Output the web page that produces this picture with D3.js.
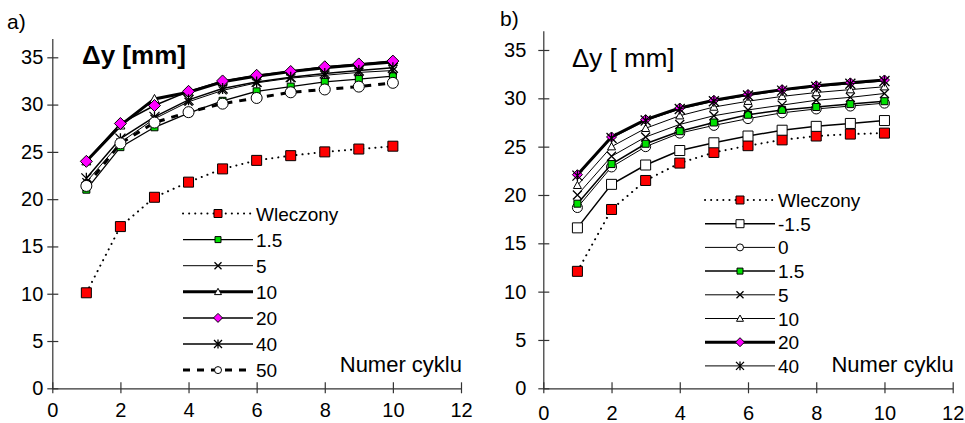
<!DOCTYPE html>
<html>
<head>
<meta charset="utf-8">
<script src="https://cdn.jsdelivr.net/npm/d3@7"></script>
<style>
  html, body { margin: 0; padding: 0; background: #fff; }
  svg { display: block; font-family: "Liberation Sans", Arial, sans-serif; }
</style>
</head>
<body>
<svg id="chart" width="965" height="423"></svg>
<script>
// Cycle numbers on the x axis
const cycles = [1, 2, 3, 4, 5, 6, 7, 8, 9, 10];
const xTicks = [0, 2, 4, 6, 8, 10, 12];
const yTicks = [0, 5, 10, 15, 20, 25, 30, 35];

// Panel a) — displacement Δy [mm] per cycle
const aLabels = ["Wleczony", "1.5", "5", "10", "20", "40", "50"];
const aWleczony = [10.1, 17.1, 20.2, 21.8, 23.2, 24.1, 24.6, 25.0, 25.3, 25.6];
const a1_5 = [21.0, 25.5, 27.6, 29.1, 30.4, 31.4, 31.9, 32.4, 32.7, 33.0];
const a5 = [21.8, 26.0, 28.5, 30.3, 31.5, 32.3, 32.8, 33.1, 33.4, 33.6];
const a10 = [24.0, 27.8, 30.6, 31.3, 32.4, 33.0, 33.5, 33.9, 34.2, 34.5];
const a20 = [24.0, 28.0, 29.9, 31.4, 32.5, 33.1, 33.5, 34.0, 34.3, 34.6];
const a40 = [22.2, 26.4, 28.7, 30.5, 31.7, 32.4, 32.9, 33.3, 33.6, 33.9];
const a50 = [21.4, 25.9, 28.1, 29.2, 30.1, 30.7, 31.3, 31.6, 31.9, 32.3];

// Panel b)
const bLabels = ["Wleczony", "-1.5", "0", "1.5", "5", "10", "20", "40"];
const bWleczony = [12.1, 18.5, 21.5, 23.3, 24.4, 25.1, 25.7, 26.1, 26.3, 26.4];
const bM1_5 = [16.6, 21.1, 23.1, 24.6, 25.4, 26.1, 26.7, 27.1, 27.4, 27.7];
const b0 = [18.7, 22.9, 25.0, 26.4, 27.2, 27.9, 28.5, 28.9, 29.2, 29.5];
const b1_5 = [19.1, 23.2, 25.3, 26.6, 27.5, 28.3, 28.8, 29.1, 29.4, 29.7];
const b5 = [20.0, 24.0, 26.0, 27.3, 28.2, 28.8, 29.3, 29.8, 30.1, 30.5];
const b10 = [21.0, 25.0, 26.9, 28.2, 29.1, 29.7, 30.2, 30.6, 30.9, 31.2];
const b20 = [22.1, 26.0, 27.8, 29.0, 29.8, 30.4, 30.9, 31.3, 31.6, 31.9];
const b40 = [22.0, 25.9, 27.7, 28.9, 29.7, 30.3, 30.8, 31.2, 31.5, 31.8];

const svg = d3.select("#chart");

// Marker shapes drawn as paths centred on (0,0); s = full width
function markerPath(type, s) {
  const h = s / 2;
  switch (type) {
    case "square": return `M${-h},${-h}H${h}V${h}H${-h}Z`;
    case "diamond": return `M0,${-h}L${h},0L0,${h}L${-h},0Z`;
    case "triangle": return `M0,${-h}L${h},${h * 0.8}L${-h},${h * 0.8}Z`;
    case "x": return `M${-h},${-h}L${h},${h}M${h},${-h}L${-h},${h}`;
    case "asterisk": return `M${-h},${-h}L${h},${h}M${h},${-h}L${-h},${h}M0,${-h * 1.1}V${h * 1.1}`;
    case "circle": return d3.arc()({innerRadius: 0, outerRadius: h, startAngle: 0, endAngle: 2 * Math.PI});
  }
}

function drawMarker(g, type, s, fill) {
  g.append("path")
    .attr("d", markerPath(type, s))
    .attr("fill", (type === "x" || type === "asterisk") ? "none" : fill)
    .attr("stroke", "#000")
    .attr("stroke-width", (type === "x" || type === "asterisk") ? 1.3 : 1);
}

function drawPanel(cfg) {
  const x = d3.scaleLinear().domain([0, 12]).range([cfg.x0, cfg.x1]);
  const y = d3.scaleLinear().domain([0, 37]).range([cfg.y0, cfg.y0 - 37 * cfg.pxPerUnit]);
  const g = svg.append("g");

  // Axes with ticks crossing the axis line
  const yAxis = g.append("g")
    .attr("transform", `translate(${cfg.x0},0)`)
    .call(d3.axisLeft(y).tickValues(yTicks).tickSizeInner(5).tickSizeOuter(0).tickPadding(cfg.yPad));
  yAxis.selectAll(".tick line").attr("x1", 6);
  const xAxis = g.append("g")
    .attr("transform", `translate(0,${cfg.y0})`)
    .call(d3.axisBottom(x).tickValues(xTicks).tickSizeInner(5).tickSizeOuter(0).tickPadding(cfg.xPad));
  xAxis.selectAll(".tick line").attr("y1", -6);
  [yAxis, xAxis].forEach(a => {
    a.select(".domain").attr("stroke", "#333").attr("stroke-width", 1.2);
    a.selectAll(".tick line").attr("stroke", "#333").attr("stroke-width", 1.2);
    a.selectAll(".tick text").attr("fill", "#000")
      .style("font-family", "'Liberation Sans', Arial, sans-serif")
      .style("font-size", "20px");
  });

  // Series lines and markers
  const line = d3.line().x((d, i) => x(cycles[i])).y(d => y(d));
  cfg.series.forEach(s => {
    g.append("path")
      .datum(s.values)
      .attr("d", line)
      .attr("fill", "none")
      .attr("stroke", "#000")
      .attr("stroke-width", s.width)
      .attr("stroke-dasharray", s.dash || null)
      .attr("stroke-linecap", s.cap || "butt");
    s.values.forEach((v, i) => {
      const m = g.append("g").attr("transform", `translate(${x(cycles[i])},${y(v)})`);
      drawMarker(m, s.marker, s.size, s.fill);
    });
  });

  // Legend
  cfg.series.forEach((s, i) => {
    const ly = cfg.legY + i * cfg.legStep;
    const lg = g.append("g").attr("transform", `translate(0,${ly})`);
    lg.append("line")
      .attr("x1", cfg.legX0).attr("x2", cfg.legX1)
      .attr("stroke", "#000")
      .attr("stroke-width", s.width)
      .attr("stroke-dasharray", s.dash || null)
      .attr("stroke-linecap", s.cap || "butt");
    const m = lg.append("g").attr("transform", `translate(${(cfg.legX0 + cfg.legX1) / 2},0)`);
    drawMarker(m, s.marker, s.legSize, s.fill);
    lg.append("text")
      .attr("x", cfg.legX1 + 3)
      .attr("y", 7)
      .attr("font-size", 19)
      .text(s.label);
  });

  // Titles
  g.append("text").attr("x", cfg.panelX).attr("y", cfg.panelY).attr("font-size", 21).text(cfg.panel);
  g.append("text").attr("x", cfg.titleX).attr("y", cfg.titleY)
    .attr("font-size", 26).attr("font-weight", cfg.titleWeight).text(cfg.title);
  g.append("text").attr("x", cfg.x1 + 1).attr("y", 372).attr("text-anchor", "end")
    .attr("font-size", 22).text("Numer cyklu");
}

drawPanel({
  x0: 52.3, x1: 461, y0: 388.3, pxPerUnit: 9.457, yPad: 4, xPad: 10,
  legX0: 183, legX1: 253, legY: 213.5, legStep: 26.1,
  panel: "a)", panelX: 7, panelY: 29,
  title: "\u0394y [mm]", titleX: 82, titleY: 64, titleWeight: "bold",
  series: [
    {label: aLabels[0], values: aWleczony, marker: "square", size: 10, legSize: 8, fill: "#ff0000", width: 2, dash: "0.1,6", cap: "round"},
    {label: aLabels[1], values: a1_5, marker: "square", size: 7, legSize: 6, fill: "#00e000", width: 1.3},
    {label: aLabels[2], values: a5, marker: "x", size: 8, legSize: 7, fill: "none", width: 1},
    {label: aLabels[3], values: a10, marker: "triangle", size: 9, legSize: 7, fill: "#fff", width: 3},
    {label: aLabels[4], values: a20, marker: "diamond", size: 12, legSize: 9, fill: "#ff00ff", width: 1.5},
    {label: aLabels[5], values: a40, marker: "asterisk", size: 10, legSize: 8, fill: "none", width: 1.5},
    {label: aLabels[6], values: a50, marker: "circle", size: 11, legSize: 7, fill: "#fff", width: 3, dash: "7,7"}
  ]
});

drawPanel({
  x0: 543.3, x1: 952.7, y0: 388.3, pxPerUnit: 9.666, yPad: 12, xPad: 13,
  legX0: 705, legX1: 775, legY: 200, legStep: 23.7,
  panel: "b)", panelX: 500, panelY: 26,
  title: "\u0394y [ mm]", titleX: 572, titleY: 67, titleWeight: "normal",
  series: [
    {label: bLabels[0], values: bWleczony, marker: "square", size: 10, legSize: 8, fill: "#ff0000", width: 2, dash: "0.1,6", cap: "round"},
    {label: bLabels[1], values: bM1_5, marker: "square", size: 10, legSize: 8, fill: "#fff", width: 1.5},
    {label: bLabels[2], values: b0, marker: "circle", size: 10, legSize: 7, fill: "#fff", width: 1},
    {label: bLabels[3], values: b1_5, marker: "square", size: 7, legSize: 6, fill: "#00e000", width: 1.5},
    {label: bLabels[4], values: b5, marker: "x", size: 9, legSize: 7, fill: "none", width: 1},
    {label: bLabels[5], values: b10, marker: "triangle", size: 8, legSize: 7, fill: "#fff", width: 1},
    {label: bLabels[6], values: b20, marker: "diamond", size: 10, legSize: 9, fill: "#ff00ff", width: 3},
    {label: bLabels[7], values: b40, marker: "asterisk", size: 10, legSize: 8, fill: "none", width: 1}
  ]
});
</script>
</body>
</html>
